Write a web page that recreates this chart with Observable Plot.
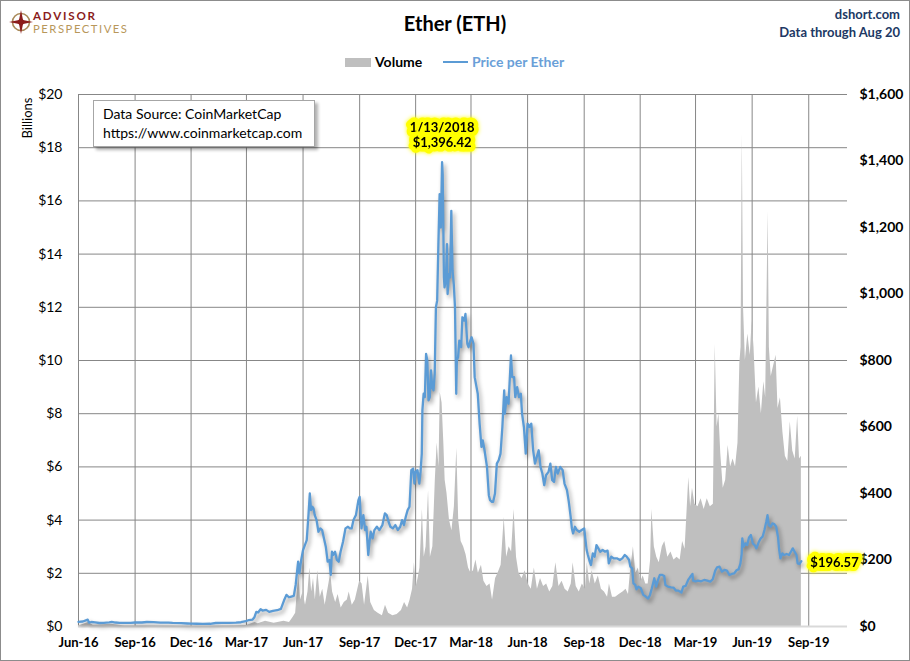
<!DOCTYPE html>
<html>
<head>
<meta charset="utf-8">
<script src="https://cdn.jsdelivr.net/npm/d3@7"></script>
<script src="https://cdn.jsdelivr.net/npm/@observablehq/plot@0.6"></script>
<style>
  body { margin: 0; background: #fff; }
  #wrap { position: relative; width: 910px; height: 661px; overflow: hidden; font-family: Lato, "Open Sans", sans-serif; background: #fff; }
  #chart { position: absolute; left: 0; top: 0; }
  .abs { position: absolute; white-space: nowrap; }
  #border { position: absolute; left: 0; top: 0; width: 908px; height: 659px; border: 1px solid #8c8c8c; pointer-events: none; }
  #chart g[aria-label="line"] path { filter: drop-shadow(2px 3px 2px rgba(0,0,0,0.38)); }
  #chart g[aria-label="text"] text { filter: drop-shadow(0 0 2px #ffff00); }
</style>
</head>
<body>
<div id="wrap">
  <div id="chart"></div>
  <svg class="abs" style="left:0;top:0" width="140" height="40">
    <circle cx="21" cy="22" r="8.5" fill="none" stroke="#a98a5a" stroke-width="1.6"/>
    <polygon points="21,10 23,20 33,22 23,24 21,34 19,24 9,22 19,20" fill="#8b1c1c"/>
    <circle cx="21" cy="22" r="3" fill="#8b1c1c"/>
    <text x="33" y="19.6" font-family="Lato" font-weight="bold" font-size="11.6" fill="#8b1c1c" textLength="62" lengthAdjust="spacing">ADVISOR</text>
    <text x="33" y="33" font-family="Lato" font-size="11.3" fill="#b8975a" textLength="94" lengthAdjust="spacing">PERSPECTIVES</text>
  </svg>
  <div class="abs" style="left:0;width:910px;text-align:center;top:11px;font-size:20px;font-weight:bold;color:#000">Ether (ETH)</div>
  <div class="abs" style="right:10px;top:6px;font-size:13px;font-weight:bold;color:#203864;text-align:right">dshort.com</div>
  <div class="abs" style="right:10px;top:24px;font-size:13px;font-weight:bold;color:#203864;text-align:right">Data through Aug 20</div>
  <div class="abs" style="left:345px;top:58px;width:26px;height:9px;background:#bfbfbf"></div>
  <div class="abs" style="left:375px;top:53px;font-size:14px;font-weight:bold;color:#000">Volume</div>
  <div class="abs" style="left:443px;top:61px;width:25px;height:2px;background:#5b9bd5"></div>
  <div class="abs" style="left:472px;top:53px;font-size:14px;font-weight:bold;color:#6a9fd8">Price per Ether</div>
  <div class="abs" style="left:27px;top:118px;font-size:13px;color:#000;transform:translate(-50%,-50%) rotate(-90deg)">Billions</div>
  <div class="abs" style="left:93px;top:100px;width:220px;height:45px;background:#fff;border:1px solid #a6a6a6;box-shadow:3px 3px 3px rgba(0,0,0,0.3)"></div>
  <div class="abs" style="left:103px;top:104px;font-size:14px;line-height:19px;color:#000">Data Source: CoinMarketCap<br>https://www.coinmarketcap.com</div>
  <div id="border"></div>
</div>
<script>
// ---- data ----
const xTicks = ["2016-06-01","2016-09-01","2016-12-01","2017-03-01","2017-06-01","2017-09-01","2017-12-01",
  "2018-03-01","2018-06-01","2018-09-01","2018-12-01","2019-03-01","2019-06-01","2019-09-01"];
const leftTicks = [0,2,4,6,8,10,12,14,16,18,20];          // volume, $ billions
const rightTicks = [0,200,400,600,800,1000,1200,1400,1600]; // price, $
const xDomain = ["2016-06-01","2019-11-03"];

const peakLabel = {date: "2018-01-13", price: 1396.42, text: "1/13/2018\n$1,396.42"};
const lastLabel = {date: "2019-08-20", price: 196.57, text: "$196.57"};

// price per Ether ($)
const priceSeries = [
["2016-06-01",14],["2016-06-08",15],["2016-06-13",18.5],["2016-06-16",20.5],["2016-06-18",11.5],["2016-06-22",13.5],
["2016-06-28",12.5],["2016-07-05",10.5],["2016-07-12",10.8],["2016-07-21",12.5],["2016-07-25",14],["2016-07-31",12],
["2016-08-07",11],["2016-08-15",11.2],["2016-08-25",11],["2016-09-01",12],["2016-09-12",12],["2016-09-20",13.5],
["2016-10-01",13.2],["2016-10-12",11.8],["2016-10-25",11.5],["2016-11-01",10.8],["2016-11-15",10],["2016-11-25",9],
["2016-12-01",8.5],["2016-12-10",8.2],["2016-12-20",7.8],["2017-01-01",8.2],["2017-01-10",10.5],["2017-01-20",10.7],
["2017-02-01",10.7],["2017-02-12",11.5],["2017-02-20",12.8],["2017-02-28",15.8],["2017-03-05",19.5],["2017-03-11",21],
["2017-03-14",28],["2017-03-17",44],["2017-03-20",42],["2017-03-24",52],["2017-03-27",48],["2017-04-02",50],
["2017-04-07",44],["2017-04-13",47],["2017-04-20",49],["2017-04-26",53],["2017-05-01",78],["2017-05-05",95],
["2017-05-09",88],["2017-05-13",90],["2017-05-17",92],["2017-05-20",125],["2017-05-22",160],["2017-05-24",195],
["2017-05-26",160],["2017-05-29",200],["2017-06-01",230],["2017-06-04",245],["2017-06-07",260],["2017-06-10",340],
["2017-06-12",400],["2017-06-14",350],["2017-06-16",360],["2017-06-18",355],["2017-06-20",335],["2017-06-23",320],
["2017-06-26",285],["2017-06-29",295],["2017-07-02",290],["2017-07-05",265],["2017-07-08",240],["2017-07-11",195],
["2017-07-14",200],["2017-07-16",155],["2017-07-18",225],["2017-07-20",215],["2017-07-23",225],["2017-07-26",200],
["2017-07-29",195],["2017-08-01",225],["2017-08-05",255],["2017-08-09",295],["2017-08-13",300],["2017-08-16",295],
["2017-08-19",295],["2017-08-22",320],["2017-08-26",335],["2017-08-30",380],["2017-09-01",390],["2017-09-04",295],
["2017-09-07",335],["2017-09-10",290],["2017-09-12",300],["2017-09-15",215],["2017-09-17",255],["2017-09-19",285],
["2017-09-22",265],["2017-09-25",290],["2017-09-29",300],["2017-10-03",290],["2017-10-08",305],["2017-10-12",340],
["2017-10-15",335],["2017-10-18",315],["2017-10-21",300],["2017-10-25",295],["2017-10-29",305],["2017-11-02",290],
["2017-11-06",300],["2017-11-09",320],["2017-11-12",305],["2017-11-15",330],["2017-11-18",350],["2017-11-21",360],
["2017-11-24",470],["2017-11-27",475],["2017-11-29",430],["2017-12-01",465],["2017-12-04",470],["2017-12-07",430],
["2017-12-09",465],["2017-12-11",520],["2017-12-12",650],["2017-12-14",700],["2017-12-16",690],["2017-12-18",820],
["2017-12-20",800],["2017-12-22",680],["2017-12-24",690],["2017-12-26",770],["2017-12-28",720],["2017-12-30",710],
["2018-01-01",760],["2018-01-03",960],["2018-01-05",980],["2018-01-07",1150],["2018-01-09",1300],["2018-01-11",1200],
["2018-01-13",1396.42],["2018-01-14",1360],["2018-01-16",1050],["2018-01-17",1020],["2018-01-19",1040],["2018-01-21",1150],
["2018-01-22",1000],["2018-01-24",1060],["2018-01-26",1050],["2018-01-28",1250],["2018-01-30",1070],["2018-02-01",1030],
["2018-02-03",960],["2018-02-05",700],["2018-02-06",800],["2018-02-08",810],["2018-02-10",860],["2018-02-13",840],
["2018-02-15",930],["2018-02-18",920],["2018-02-20",940],["2018-02-23",850],["2018-02-25",840],["2018-02-28",860],
["2018-03-02",870],["2018-03-05",850],["2018-03-07",750],["2018-03-10",720],["2018-03-12",700],["2018-03-15",610],
["2018-03-18",540],["2018-03-20",560],["2018-03-23",530],["2018-03-27",480],["2018-03-30",395],["2018-04-01",380],
["2018-04-04",375],["2018-04-06",375],["2018-04-09",400],["2018-04-12",490],["2018-04-15",500],["2018-04-18",520],
["2018-04-21",600],["2018-04-24",710],["2018-04-25",640],["2018-04-28",690],["2018-05-01",670],["2018-05-05",815],
["2018-05-07",750],["2018-05-10",750],["2018-05-12",690],["2018-05-15",720],["2018-05-18",690],["2018-05-21",700],
["2018-05-23",640],["2018-05-26",600],["2018-05-29",520],["2018-06-01",610],["2018-06-04",600],["2018-06-07",610],
["2018-06-10",530],["2018-06-13",490],["2018-06-16",510],["2018-06-19",530],["2018-06-22",480],["2018-06-25",460],
["2018-06-28",425],["2018-07-01",455],["2018-07-05",465],["2018-07-08",490],["2018-07-11",440],["2018-07-14",435],
["2018-07-17",480],["2018-07-20",460],["2018-07-24",480],["2018-07-28",470],["2018-07-31",430],["2018-08-04",410],
["2018-08-07",375],["2018-08-10",330],["2018-08-12",295],["2018-08-14",280],["2018-08-17",300],["2018-08-20",290],
["2018-08-24",285],["2018-08-28",290],["2018-09-01",295],["2018-09-05",230],["2018-09-07",215],["2018-09-10",195],
["2018-09-12",185],["2018-09-15",220],["2018-09-18",210],["2018-09-21",245],["2018-09-24",235],["2018-09-27",225],
["2018-10-01",230],["2018-10-05",225],["2018-10-09",228],["2018-10-11",190],["2018-10-15",210],["2018-10-19",205],
["2018-10-24",205],["2018-10-29",200],["2018-11-02",205],["2018-11-06",215],["2018-11-09",210],["2018-11-13",200],
["2018-11-15",180],["2018-11-18",175],["2018-11-20",130],["2018-11-23",125],["2018-11-25",112],["2018-11-28",120],
["2018-12-02",115],["2018-12-06",95],["2018-12-10",90],["2018-12-14",84],["2018-12-17",95],["2018-12-20",115],
["2018-12-22",130],["2018-12-24",145],["2018-12-27",120],["2018-12-30",140],["2019-01-02",155],["2019-01-06",155],
["2019-01-09",152],["2019-01-11",125],["2019-01-15",120],["2019-01-20",118],["2019-01-24",117],["2019-01-28",108],
["2019-02-01",108],["2019-02-06",102],["2019-02-09",120],["2019-02-13",122],["2019-02-17",140],["2019-02-20",148],
["2019-02-24",158],["2019-02-25",138],["2019-03-01",136],["2019-03-05",138],["2019-03-10",136],["2019-03-15",140],
["2019-03-20",138],["2019-03-25",135],["2019-03-29",142],["2019-04-02",168],["2019-04-05",178],["2019-04-09",180],
["2019-04-13",165],["2019-04-17",170],["2019-04-21",168],["2019-04-25",155],["2019-04-29",158],["2019-05-03",160],
["2019-05-07",170],["2019-05-10",172],["2019-05-13",190],["2019-05-15",218],["2019-05-16",265],["2019-05-18",240],
["2019-05-21",250],["2019-05-24",245],["2019-05-27",268],["2019-05-30",275],["2019-06-02",250],["2019-06-05",245],
["2019-06-08",235],["2019-06-12",255],["2019-06-15",265],["2019-06-18",270],["2019-06-21",290],["2019-06-24",315],
["2019-06-26",335],["2019-06-28",305],["2019-07-01",300],["2019-07-04",310],["2019-07-07",308],["2019-07-10",300],
["2019-07-13",270],["2019-07-15",230],["2019-07-17",205],["2019-07-20",220],["2019-07-23",215],["2019-07-27",218],
["2019-07-31",215],["2019-08-03",225],["2019-08-06",235],["2019-08-09",225],["2019-08-12",215],["2019-08-14",190],
["2019-08-17",188],["2019-08-20",196.57]
];

// volume ($ billions)
const volumeSeries = [
["2016-06-01",0.02],["2016-06-17",0.15],["2016-06-25",0.05],["2016-07-24",0.08],["2016-08-15",0.02],["2016-10-01",0.02],
["2016-12-01",0.01],["2017-02-01",0.02],["2017-03-01",0.04],["2017-03-15",0.15],["2017-03-20",0.1],["2017-04-01",0.2],
["2017-04-15",0.12],["2017-05-01",0.2],["2017-05-10",0.15],["2017-05-16",0.35],["2017-05-20",0.5],["2017-05-25",2.0],
["2017-05-28",1.0],["2017-06-01",1.3],["2017-06-05",0.8],["2017-06-09",1.3],["2017-06-12",2.2],["2017-06-15",1.3],
["2017-06-18",1.8],["2017-06-21",1.0],["2017-06-25",2.1],["2017-06-29",1.1],["2017-07-03",1.4],["2017-07-07",0.8],
["2017-07-10",1.2],["2017-07-16",2.0],["2017-07-19",1.3],["2017-07-24",0.9],["2017-07-28",1.2],["2017-08-02",0.7],
["2017-08-07",0.9],["2017-08-12",1.0],["2017-08-15",1.3],["2017-08-20",0.8],["2017-08-25",1.0],["2017-09-01",1.7],
["2017-09-05",1.6],["2017-09-09",0.8],["2017-09-15",1.9],["2017-09-19",0.9],["2017-09-25",0.6],["2017-10-01",0.5],
["2017-10-08",0.4],["2017-10-13",0.8],["2017-10-18",0.5],["2017-10-25",0.4],["2017-11-01",0.45],["2017-11-08",0.6],
["2017-11-13",0.9],["2017-11-18",0.7],["2017-11-22",1.0],["2017-11-26",1.4],["2017-11-29",2.4],["2017-12-02",1.5],
["2017-12-05",1.8],["2017-12-08",2.2],["2017-12-12",4.4],["2017-12-15",2.6],["2017-12-18",3.0],["2017-12-22",5.1],
["2017-12-25",2.6],["2017-12-29",3.0],["2018-01-02",5.5],["2018-01-05",6.9],["2018-01-08",6.0],["2018-01-10",8.8],
["2018-01-13",8.4],["2018-01-16",6.8],["2018-01-18",5.5],["2018-01-21",5.0],["2018-01-25",4.0],["2018-01-29",3.6],
["2018-02-02",4.5],["2018-02-06",6.7],["2018-02-09",4.0],["2018-02-13",3.2],["2018-02-17",3.0],["2018-02-21",2.7],
["2018-02-25",2.2],["2018-03-01",2.0],["2018-03-05",2.1],["2018-03-09",2.5],["2018-03-13",2.0],["2018-03-18",2.3],
["2018-03-22",1.7],["2018-03-27",1.5],["2018-04-01",1.6],["2018-04-05",1.0],["2018-04-10",1.8],["2018-04-14",2.0],
["2018-04-19",2.3],["2018-04-24",4.1],["2018-04-28",2.6],["2018-05-02",3.0],["2018-05-06",2.8],["2018-05-10",4.4],
["2018-05-14",2.6],["2018-05-18",2.0],["2018-05-23",1.8],["2018-05-28",2.1],["2018-06-02",1.6],["2018-06-07",1.4],
["2018-06-12",2.2],["2018-06-17",1.4],["2018-06-22",1.8],["2018-06-27",1.5],["2018-07-02",1.6],["2018-07-07",1.3],
["2018-07-12",1.5],["2018-07-17",2.4],["2018-07-22",1.5],["2018-07-27",1.7],["2018-08-01",1.4],["2018-08-06",1.3],
["2018-08-11",1.6],["2018-08-14",2.4],["2018-08-19",1.5],["2018-08-24",1.3],["2018-08-29",1.6],["2018-09-03",1.4],
["2018-09-06",2.4],["2018-09-10",1.6],["2018-09-14",2.1],["2018-09-19",1.6],["2018-09-24",1.9],["2018-09-29",1.4],
["2018-10-04",1.3],["2018-10-09",1.1],["2018-10-12",1.6],["2018-10-17",1.1],["2018-10-22",1.1],["2018-10-28",1.2],
["2018-11-03",1.3],["2018-11-08",1.4],["2018-11-12",1.2],["2018-11-15",2.0],["2018-11-20",3.0],["2018-11-24",2.0],
["2018-11-28",2.2],["2018-12-02",1.7],["2018-12-06",1.9],["2018-12-10",1.6],["2018-12-14",1.6],["2018-12-18",2.5],
["2018-12-20",4.4],["2018-12-24",3.0],["2018-12-28",2.6],["2019-01-01",2.4],["2019-01-06",3.0],["2019-01-10",3.2],
["2019-01-15",2.6],["2019-01-20",2.8],["2019-01-25",2.5],["2019-01-30",2.6],["2019-02-04",2.5],["2019-02-08",3.2],
["2019-02-12",2.9],["2019-02-18",5.6],["2019-02-21",4.5],["2019-02-24",5.2],["2019-02-28",4.6],["2019-03-05",4.5],
["2019-03-10",4.8],["2019-03-15",4.4],["2019-03-20",4.8],["2019-03-25",4.5],["2019-03-30",4.6],["2019-04-02",10.6],
["2019-04-05",7.5],["2019-04-08",8.0],["2019-04-11",6.5],["2019-04-15",5.2],["2019-04-19",5.5],["2019-04-23",6.8],
["2019-04-27",6.0],["2019-05-01",6.3],["2019-05-05",6.0],["2019-05-09",6.9],["2019-05-12",9.9],["2019-05-14",10.5],
["2019-05-16",18.5],["2019-05-18",12.0],["2019-05-21",10.0],["2019-05-25",11.0],["2019-05-29",10.2],["2019-06-01",11.5],
["2019-06-04",10.5],["2019-06-08",8.4],["2019-06-12",9.0],["2019-06-16",8.0],["2019-06-20",9.2],["2019-06-23",8.6],
["2019-06-27",15.6],["2019-06-29",10.5],["2019-07-02",9.4],["2019-07-06",9.8],["2019-07-10",10.2],["2019-07-13",8.2],
["2019-07-17",8.6],["2019-07-21",7.3],["2019-07-25",6.4],["2019-07-29",6.2],["2019-08-02",7.7],["2019-08-06",6.6],
["2019-08-10",6.3],["2019-08-14",7.9],["2019-08-17",6.3],["2019-08-20",6.4]
];

// ---- build ----
const ratio = rightTicks[rightTicks.length - 1] / leftTicks[leftTicks.length - 1]; // $ price per $1B on shared y
const parse = s => new Date(s + "T00:00:00Z");
const price = priceSeries.map(([d, v]) => ({date: parse(d), y: v / ratio}));
const volume = volumeSeries.map(([d, v]) => ({date: parse(d), v}));
const labels = [peakLabel, lastLabel].map(l => ({...l, date: parse(l.date), y: l.price / ratio}));
const fmtMonth = d3.utcFormat("%b-%y");
const fmtComma = d3.format(",");

const chart = Plot.plot({
  width: 910,
  height: 661,
  marginLeft: 78,
  marginRight: 63,
  marginTop: 94,
  marginBottom: 35,
  style: {fontFamily: "Lato, 'Open Sans', sans-serif", fontSize: "13px", background: "transparent", overflow: "visible"},
  x: {type: "utc", domain: xDomain.map(parse)},
  y: {domain: [0, leftTicks[leftTicks.length - 1]]},
  marks: [
    Plot.gridY(leftTicks.filter(t => t > 0), {stroke: "#878787", strokeOpacity: 1, strokeWidth: 1}),
    Plot.gridX(xTicks.map(parse), {stroke: "#878787", strokeOpacity: 1, strokeWidth: 1}),
    Plot.areaY(volume, {x: "date", y: "v", fill: "#bfbfbf", curve: "linear"}),
    Plot.ruleY([0], {stroke: "#d9d9d9", strokeWidth: 2}),
    Plot.line(price, {x: "date", y: "y", stroke: "#5b9bd5", strokeWidth: 2.3, strokeLinejoin: "round"}),
    Plot.axisY(leftTicks, {anchor: "left", tickSize: 0, tickPadding: 16, fontSize: 14, label: null,
      tickFormat: d => "$" + d, fill: "#000"}),
    Plot.axisY(rightTicks.map(v => v / ratio), {anchor: "right", tickSize: 0, tickPadding: 12, fontSize: 14, fontWeight: "bold", label: null,
      tickFormat: d => "$" + fmtComma(Math.round(d * ratio)), fill: "#000"}),
    Plot.axisX(xTicks.map(parse), {tickSize: 0, tickPadding: 11, fontSize: 13, fontWeight: "bold", label: null,
      tickFormat: fmtMonth, fill: "#000"}),
    Plot.text(labels.slice(0, 1), {x: "date", y: "y", text: "text", dy: -15, lineAnchor: "bottom", lineHeight: 1.2,
      fontSize: 13, fontWeight: "bold", fill: "#000", stroke: "#ffff00", strokeWidth: 9, strokeLinejoin: "round", paintOrder: "stroke"}),
    Plot.text(labels.slice(1), {x: "date", y: "y", text: "text", dx: 9, dy: 2, textAnchor: "start",
      fontSize: 13, fontWeight: "bold", fill: "#000", stroke: "#ffff00", strokeWidth: 8, strokeLinejoin: "round", paintOrder: "stroke"})
  ]
});
document.getElementById("chart").appendChild(chart);
</script>
</body>
</html>
